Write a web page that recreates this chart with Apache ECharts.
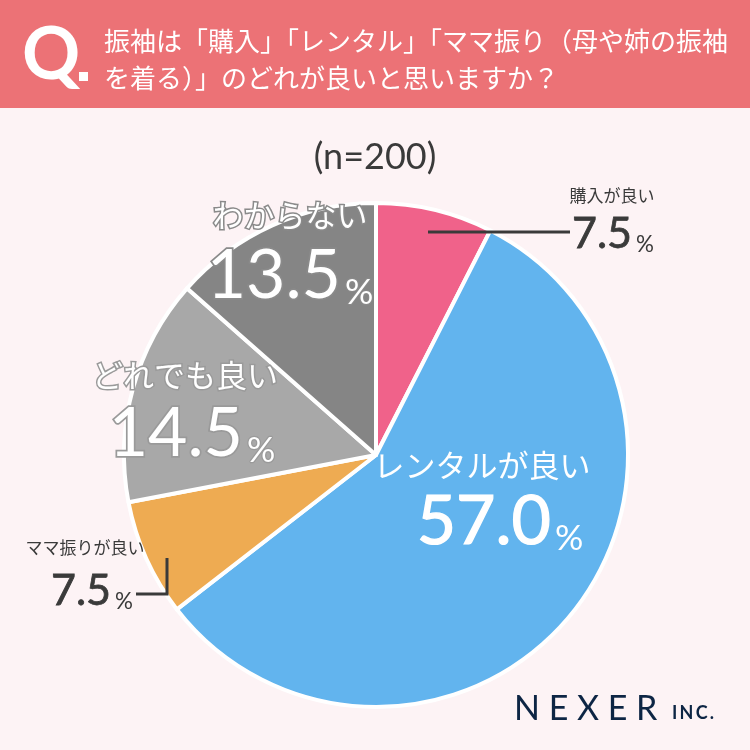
<!DOCTYPE html>
<html>
<head>
<meta charset="utf-8">
<script src="https://cdn.jsdelivr.net/npm/echarts@6/dist/echarts.min.js"></script>
<style>
  html, body { margin: 0; padding: 0; background: #fdf3f5; }
  #chart { width: 750px; height: 750px; }
</style>
</head>
<body>
<div id="chart"></div>
<script>
const categories = ['購入が良い', 'レンタルが良い', 'ママ振りが良い', 'どれでも良い', 'わからない']
const values = [7.5, 57.0, 7.5, 14.5, 13.5]
const colors = ['#f0628a', '#62b4ee', '#eeab52', '#a8a8a8', '#858585']
const sampleLabel = '(n=200)'
const title1 = '振袖は「購入」「レンタル」「ママ振り（母や姉の振袖'
const title2 = 'を着る）」のどれが良いと思いますか？'

const jp = '"Noto Sans CJK JP", "Noto Sans", sans-serif'
const num = 'Lato, "Noto Sans", sans-serif'

const chart = echarts.init(document.getElementById('chart'))

// label helper: big percentage with a small % sign
// without an outline colour the digits get a thin stroke of their own colour to look a bit heavier
const pctText = (i, x, y, size, color, stroke) => {
  const s = stroke || color
  const w = stroke ? 3.5 : size * 0.018
  return {
    type: 'text',
    z: 100,
    x: x,
    y: y,
    style: {
      text: '{n|' + values[i].toFixed(1) + '}{p|%}',
      align: 'center',
      verticalAlign: 'middle',
      rich: {
        n: { fontFamily: num, fontSize: size, fontWeight: 'normal', fill: color, stroke: s, lineWidth: w, verticalAlign: 'bottom', lineHeight: size },
        p: { fontFamily: num, fontSize: size * 0.52, fontWeight: 'normal', fill: color, stroke: stroke || null, lineWidth: stroke ? 2.5 : 0, verticalAlign: 'bottom', lineHeight: size * 0.9, padding: [0, 0, 0, 4] }
      }
    }
  }
}
const nameText = (i, x, y, size, color, stroke) => ({
  type: 'text',
  z: 100,
  x: x,
  y: y,
  style: {
    text: categories[i],
    align: 'center',
    verticalAlign: 'middle',
    fontFamily: jp,
    fontSize: size,
    fill: color,
    stroke: stroke || null,
    lineWidth: stroke ? 3 : 0
  }
})

const option = {
  backgroundColor: '#fdf3f5',
  animation: false,
  series: [
    {
      type: 'pie',
      center: [376, 455],
      radius: [0, 252],
      startAngle: 90,
      clockwise: true,
      label: { show: false },
      labelLine: { show: false },
      itemStyle: { borderColor: '#ffffff', borderWidth: 4 },
      data: categories.map((c, i) => ({ name: c, value: values[i], itemStyle: { color: colors[i] } }))
    }
  ],
  graphic: [
    // header band
    { type: 'rect', shape: { x: 0, y: 0, width: 750, height: 108 }, style: { fill: '#ec7276' } },
    { type: 'text', x: 22, y: 56, style: { text: 'Q', fontFamily: num, fontSize: 72, fontWeight: 'bold', fill: '#ffffff', verticalAlign: 'middle' } },
    { type: 'rect', shape: { x: 79, y: 72, width: 9, height: 9 }, style: { fill: '#ffffff' } },
    { type: 'text', x: 104, y: 41, style: { text: title1, fontFamily: jp, fontSize: 26, fill: '#ffffff', verticalAlign: 'middle' } },
    { type: 'text', x: 104, y: 78, style: { text: title2, fontFamily: jp, fontSize: 26, fill: '#ffffff', verticalAlign: 'middle' } },

    { type: 'text', x: 375, y: 157, style: { text: sampleLabel, fontFamily: num, fontSize: 36, fill: '#3a3a3a', align: 'center', verticalAlign: 'middle' } },

    // inside labels
    nameText(1, 482, 465, 31, '#ffffff'),
    pctText(1, 500, 522, 68, '#ffffff'),
    nameText(4, 290, 215, 31, '#ffffff', '#8a8a8a'),
    pctText(4, 290, 276, 68, '#ffffff', '#8a8a8a'),
    nameText(3, 185, 375, 31, '#ffffff', '#9a9a9a'),
    pctText(3, 192, 434, 68, '#ffffff', '#9a9a9a'),

    // outside labels
    nameText(0, 612, 196, 17, '#3a3a3a'),
    pctText(0, 613, 234, 43, '#3a3a3a'),
    { type: 'polyline', z: 100, shape: { points: [[428, 232], [570, 232]] }, style: { stroke: '#3a3a3a', lineWidth: 3 } },
    nameText(2, 85, 548, 17, '#3a3a3a'),
    pctText(2, 92, 591, 43, '#3a3a3a'),
    { type: 'polyline', z: 100, shape: { points: [[136, 594], [167, 594], [167, 558]] }, style: { stroke: '#3a3a3a', lineWidth: 3, fill: null } },

    // logo
    { type: 'text', x: 514, y: 709, style: { text: 'N E X E R', fontFamily: num, fontSize: 34, fill: '#0d2544', verticalAlign: 'middle' } },
    { type: 'text', x: 672, y: 713, style: { text: 'I\u2009N\u2009C\u2009.', fontFamily: num, fontSize: 18, fontWeight: 'bold', fill: '#0d2544', verticalAlign: 'middle' } }
  ]
}

chart.setOption(option)
</script>
</body>
</html>
